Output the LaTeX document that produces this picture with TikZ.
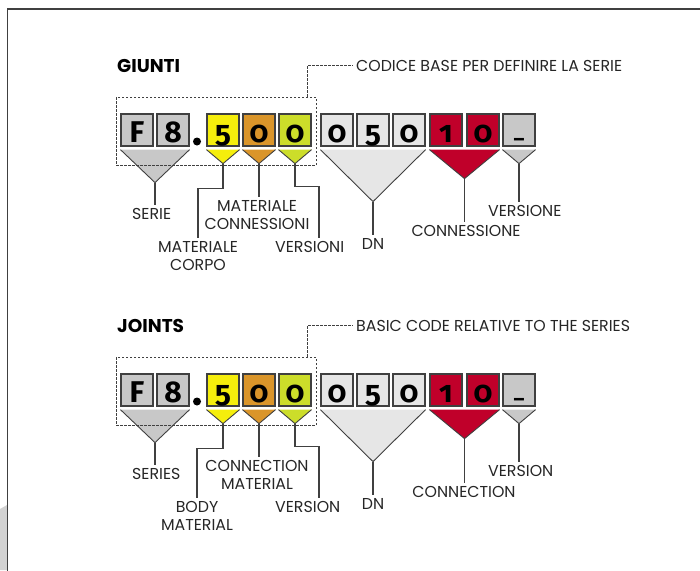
\documentclass[tikz,border=0pt]{standalone}
\usepackage{fontspec}
\setmainfont{Poppins}
\newfontfamily\digitfont[Numbers=OldStyle]{Fira Sans}
\usetikzlibrary{calc}
\definecolor{edgegray}{HTML}{404040}
\definecolor{boxgray}{HTML}{C8C8C8}
\definecolor{dngray}{HTML}{E6E6E6}
\definecolor{codeyellow}{HTML}{F5EE0C}
\definecolor{codeorange}{HTML}{DA952A}
\definecolor{codelime}{HTML}{CCDD2A}
\definecolor{codered}{HTML}{C0002A}
\newcommand\codebar{\raisebox{5pt}{\fontsize{20}{20}\selectfont\_}}
\tikzset{
  digit/.style={draw=edgegray,line width=1.2pt,minimum width=32pt,minimum height=32pt,inner sep=0pt,
    text height=24.6pt,text depth=0pt,font=\digitfont\bfseries\fontsize{30}{30}\selectfont},
  wedge/.style={edgegray,line width=0.9pt},
  leader/.style={edgegray,line width=1.1pt,shorten >=3pt},
  codetext/.style={text=black!85,font=\fontsize{15.8}{18}\selectfont,align=center,inner sep=0pt},
  tabletitle/.style={font=\bfseries\fontsize{18.5}{20}\selectfont,anchor=base west,inner sep=0pt},
  dashline/.style={draw=edgegray,line width=0.9pt,dash pattern=on 2.5pt off 1.5pt},
  basebox/.style={dashline,minimum width=200pt,minimum height=68pt}
}
\begin{document}
\begin{tikzpicture}[x=1pt,y=-1pt]
\useasboundingbox (0,0) rectangle (700,570);
\fill[gray!35] (0,509)--(7,505)--(7,570)--(0,570)--cycle;
\draw[edgegray,line width=1.5pt] (7.5,571)--(7.5,9)--(701,9);
% italian table
\node[tabletitle] (a-title) at (117,72.5) {GIUNTI};
\node[codetext,anchor=west,inner xsep=3pt] (a-code) at (353,65.5) {CODICE BASE PER DEFINIRE LA SERIE};
\node[codetext,anchor=north west] (a-serie) at (132,208) {SERIE};
\node[codetext,anchor=north] (a-corpo) at (198,241) {MATERIALE\\CORPO};
\node[codetext,anchor=north] (a-conn) at (257,200) {MATERIALE\\CONNESSIONI};
\node[codetext,anchor=north west] (a-vers) at (275,241) {VERSIONI};
\node[codetext,anchor=north] (a-dn) at (373,238) {DN};
\node[codetext,anchor=north] (a-conne) at (466,225) {CONNESSIONE};
\node[codetext,anchor=north west] (a-versione) at (488,205) {VERSIONE};
% english table
\node[tabletitle] (b-title) at (117,332.5) {JOINTS};
\node[codetext,anchor=west,inner xsep=3pt] (b-code) at (353,325.5) {BASIC CODE RELATIVE TO THE SERIES};
\node[codetext,anchor=north west] (b-serie) at (132,468) {SERIES};
\node[codetext,anchor=north] (b-corpo) at (197,501) {BODY\\MATERIAL};
\node[codetext,anchor=north] (b-conn) at (257,460) {CONNECTION\\MATERIAL};
\node[codetext,anchor=north west] (b-vers) at (275,501) {VERSION};
\node[codetext,anchor=north] (b-dn) at (373,498) {DN};
\node[codetext,anchor=north] (b-conne) at (464,486) {CONNECTION};
\node[codetext,anchor=north west] (b-versione) at (488,465) {VERSION};
\foreach \p/\dy in {a/0,b/260}{
  \foreach \n/\x/\c/\d in {1/137/boxgray/F,2/173/boxgray/8,3/223/codeyellow/5,4/259/codeorange/0,
      5/295/codelime/0,6/337/dngray/0,7/373/dngray/5,8/409/dngray/0,9/446/codered/1,10/483/codered/0,
      11/519/boxgray/\codebar}
    \node[digit,fill=\c] (\p-box\n) at (\x,130+\dy) {\d};
  \fill (197,141.5+\dy) circle (4);
  \foreach \i/\j/\c/\h/\k in {1/2/boxgray/33/serie,3/3/codeyellow/14/corpo,4/4/codeorange/14/conn,
      5/5/codelime/14/vers,6/8/dngray/52/dn,9/10/codered/29/conne,11/11/boxgray/14/versione}{
    \coordinate (\p-\k-l) at ([yshift=-3pt]\p-box\i.south west);
    \coordinate (\p-\k-r) at ([yshift=-3pt]\p-box\j.south east);
    \coordinate (\p-\k-tip) at ($(\p-\k-l)!0.5!(\p-\k-r)+(0,\h)$);
    \fill[\c] (\p-\k-l) -- (\p-\k-tip) -- (\p-\k-r) -- cycle;
    \draw[wedge] (\p-\k-l) -- (\p-\k-tip) -- (\p-\k-r);
  }
  \node[basebox] (\p-base) at (216,131+\dy) {};
  \draw[dashline] ([xshift=-9pt]\p-base.north east) |- (\p-code.west);
  \draw[leader] (\p-serie-tip) -- (\p-serie-tip |- \p-serie.north);
  \draw[leader] (\p-corpo-tip) -- ++(0,25) -| (\p-corpo.north);
  \draw[leader] (\p-conn-tip) -- (\p-conn-tip |- \p-conn.north);
  \draw[leader] (\p-vers-tip) -- ++(0,23) -- ++(24,0) coordinate (\p-vers-bend) -- (\p-vers-bend |- \p-vers.north);
  \draw[leader] (\p-dn-tip) -- (\p-dn-tip |- \p-dn.north);
  \draw[leader] (\p-conne-tip) -- (\p-conne-tip |- \p-conne.north);
  \draw[leader] (\p-versione-tip) -- (\p-versione-tip |- \p-versione.north);
}
\end{tikzpicture}
\end{document}
